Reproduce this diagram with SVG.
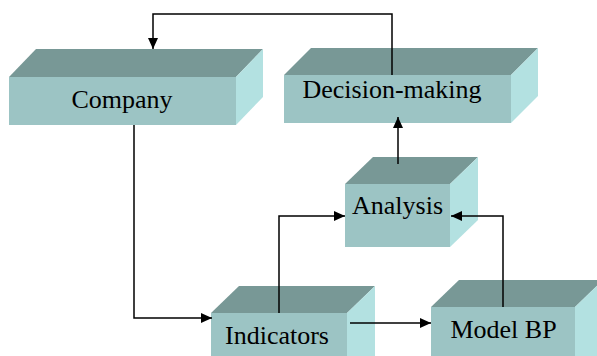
<svg xmlns="http://www.w3.org/2000/svg" width="597" height="356" viewBox="0 0 597 356">
<style>
.front{fill:#9cc4c4}
.top{fill:#789896}
.side{fill:#b3e1e1}
.lbl{font-size:26px;fill:#000;text-anchor:middle}
.conn{fill:none;stroke:#000;stroke-width:1.5}
</style>
<defs>
<marker id="arr" markerWidth="11" markerHeight="10" refX="11" refY="5" orient="auto" markerUnits="userSpaceOnUse">
<path d="M0,0 L11,5 L0,10 Z" fill="#000"/>
</marker>
</defs>
<rect width="597" height="356" fill="#fff"/>
<g font-family="'Liberation Serif', 'Times New Roman', 'DejaVu Serif', serif">
<g id="company">
<polygon class="top" points="9,77 36,49 263,49 236,77"/>
<polygon class="side" points="236,77 263,49 263,97 236,125"/>
<rect class="front" x="9" y="77" width="227" height="48"/>
<text class="lbl" x="122" y="108">Company</text>
</g>
<g id="decision">
<polygon class="top" points="284,75 311,48 538,48 511,75"/>
<polygon class="side" points="511,75 538,48 538,96 511,123"/>
<rect class="front" x="284" y="75" width="227" height="48"/>
<text class="lbl" x="392" y="98">Decision-making</text>
</g>
<g id="analysis">
<polygon class="top" points="345,184 373,157 478,157 450,184"/>
<polygon class="side" points="450,184 478,157 478,220 450,247"/>
<rect class="front" x="345" y="184" width="105" height="63"/>
<text class="lbl" x="397.5" y="214">Analysis</text>
</g>
<g id="indicators">
<polygon class="top" points="211,313 239,286 375,286 347,313"/>
<polygon class="side" points="347,313 375,286 375,360 347,360"/>
<rect class="front" x="211" y="313" width="136" height="50"/>
<text class="lbl" x="277" y="344">Indicators</text>
</g>
<g id="modelbp">
<polygon class="top" points="431,307 459,280 603,280 575,307"/>
<polygon class="side" points="575,307 603,280 603,360 575,360"/>
<rect class="front" x="431" y="307" width="144" height="55"/>
<text class="lbl" x="503.5" y="338">Model BP</text>
</g>
</g>
<g id="connectors">
<path class="conn" d="M392,75 V14 H153 V49" marker-end="url(#arr)"/>
<path class="conn" d="M134,125 V318 H212" marker-end="url(#arr)"/>
<path class="conn" d="M398,164 V117" marker-end="url(#arr)"/>
<path class="conn" d="M279,313 V216 H345" marker-end="url(#arr)"/>
<path class="conn" d="M503,307 V216 H451" marker-end="url(#arr)"/>
<path class="conn" d="M350,323 H431" marker-end="url(#arr)"/>
</g>
</svg>
